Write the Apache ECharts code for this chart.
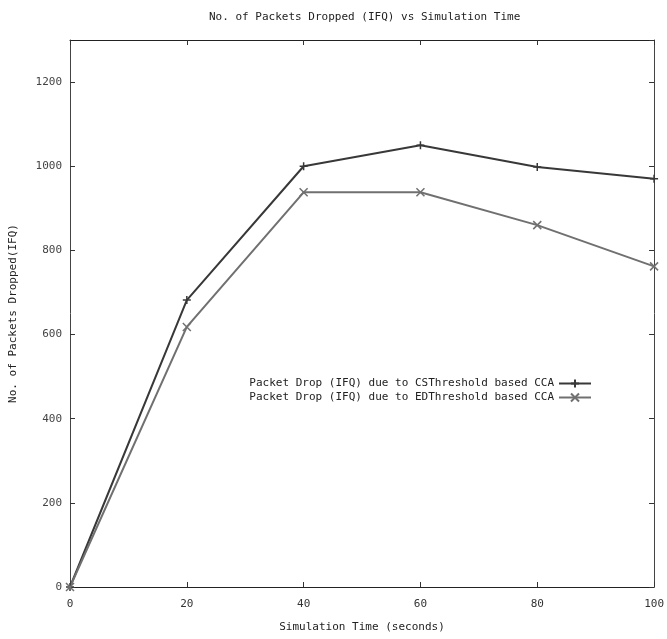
<!DOCTYPE html>
<html><head><meta charset="utf-8">
<script src="https://cdn.jsdelivr.net/npm/echarts@6/dist/echarts.min.js"></script>
<style>html,body{margin:0;padding:0;background:#fff}#c{width:667px;height:639px}</style>
</head><body><div id="c"></div>
<script>
const times = [0, 20, 40, 60, 80, 100];
const csDrops = [0, 682, 1000, 1050, 998, 970];
const edDrops = [0, 618, 938, 938, 860, 762];
const xTicks = [0, 20, 40, 60, 80, 100];
const seriesNames = ['Packet Drop (IFQ) due to CSThreshold based CCA', 'Packet Drop (IFQ) due to EDThreshold based CCA'];

const mono = 'DejaVu Sans Mono';
const chart = echarts.init(document.getElementById('c'), null, {renderer: 'canvas'});
const plus = 'path://M0,5L10,5M5,0L5,10';
const cross = 'path://M0,0L10,10M10,0L0,10';
const mkLine = (name, data, color, sym) => ({
  name, type: 'line', data: times.map((t, i) => [t, data[i]]),
  symbol: sym, symbolSize: 8, showSymbol: true,
  lineStyle: {color, width: 2},
  itemStyle: {color, borderColor: color, borderWidth: 1.5},
  emphasis: {disabled: true}, animation: false
});
const tick = {inside: true, length: 5, lineStyle: {color: '#333'}};
chart.setOption({
  animation: false,
  backgroundColor: '#fff',
  title: {text: 'No. of Packets Dropped (IFQ) vs Simulation Time', left: 204, top: 7,
    textStyle: {fontFamily: mono, fontSize: 11, fontWeight: 'normal', color: '#222'}},
  grid: {left: 70, right: 11, top: 40, bottom: 52},
  legend: {orient: 'vertical', align: 'right', right: 70, top: 373, itemGap: 3,
    itemWidth: 32, itemHeight: 10, data: seriesNames,
    textStyle: {fontFamily: mono, fontSize: 11, color: '#222'}},
  xAxis: [{
    type: 'value', min: 0, max: 100, interval: 20,
    name: 'Simulation Time (seconds)', nameLocation: 'middle', nameGap: 35,
    nameTextStyle: {fontFamily: mono, fontSize: 11, color: '#222'},
    axisLine: {onZero: false, lineStyle: {color: '#222', width: 1}},
    axisTick: tick,
    axisLabel: {fontFamily: mono, fontSize: 11, color: '#333', margin: 12,
      formatter: v => xTicks.includes(v) ? String(v) : ''},
    splitLine: {show: false}
  }, {
    type: 'value', position: 'top', min: 0, max: 100, interval: 20,
    axisLine: {show: true, onZero: false, lineStyle: {color: '#222', width: 1}},
    axisTick: tick,
    axisLabel: {show: false}, splitLine: {show: false}
  }],
  yAxis: [{
    type: 'value', min: 0, max: 1300, interval: 200,
    name: 'No. of Packets Dropped(IFQ)', nameLocation: 'middle', nameGap: 51,
    nameTextStyle: {fontFamily: mono, fontSize: 11, color: '#222'},
    axisLine: {show: true, onZero: false, lineStyle: {color: '#444', width: 1}},
    axisTick: tick,
    axisLabel: {fontFamily: mono, fontSize: 11, color: '#444', margin: 8, showMaxLabel: false,
      formatter: v => String(v)},
    splitLine: {show: false}
  }, {
    type: 'value', position: 'right', min: 0, max: 1300, interval: 200,
    axisLine: {show: true, onZero: false, lineStyle: {color: '#444', width: 1}},
    axisTick: tick,
    axisLabel: {show: false}, splitLine: {show: false}
  }],
  series: [
    mkLine(seriesNames[0], csDrops, '#383838', plus),
    mkLine(seriesNames[1], edDrops, '#707070', cross)
  ]
});
</script></body></html>
